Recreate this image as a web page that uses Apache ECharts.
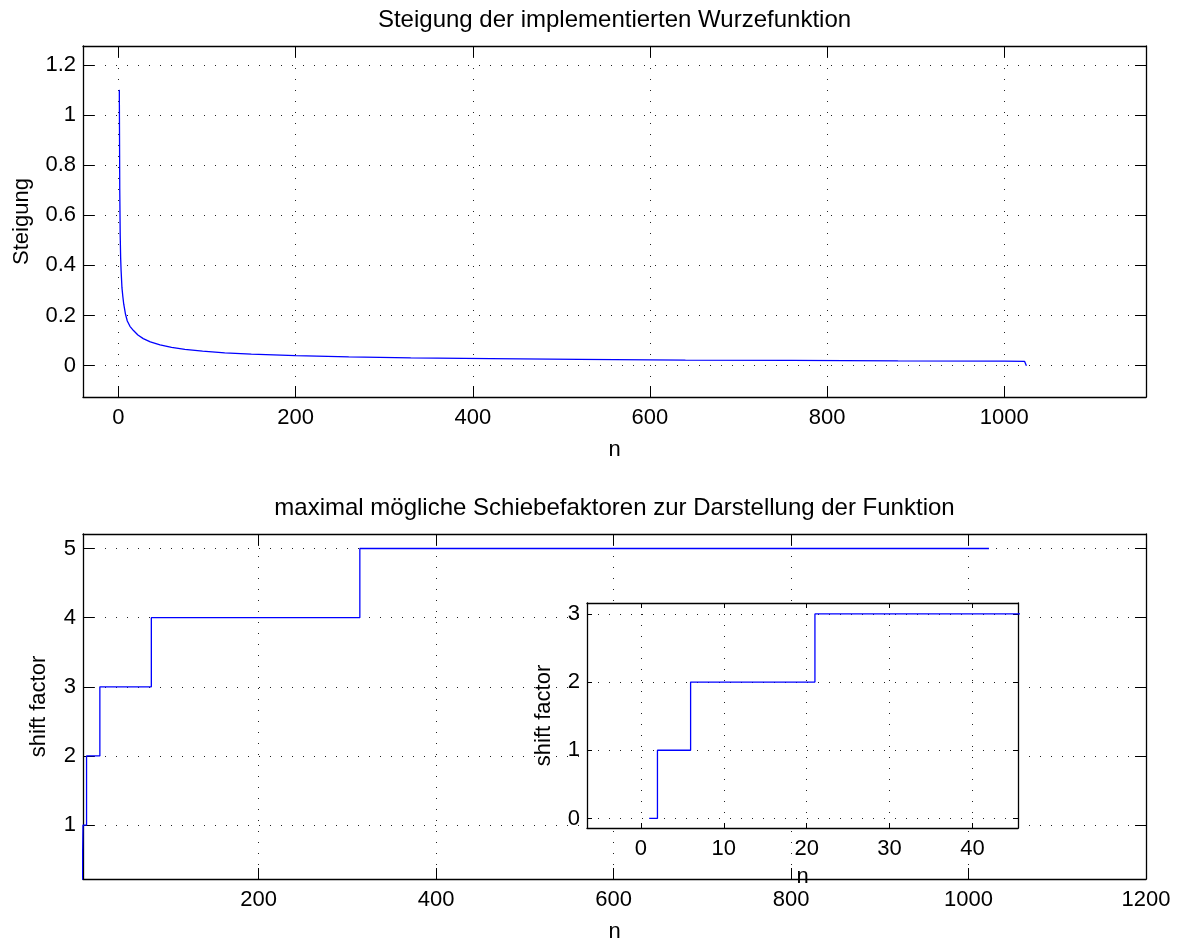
<!DOCTYPE html>
<html>
<head>
<meta charset="utf-8">
<script src="https://cdn.jsdelivr.net/npm/echarts@6/dist/echarts.min.js"></script>
<style>
  html, body { margin: 0; padding: 0; background: #fff; }
  #chart { width: 1181px; height: 944px; }
</style>
</head>
<body>
<div id="chart"></div>
<script>
// Slope of the implemented square-root function, sampled along n
const slopeN = [1, 1.5, 2, 2.5, 3, 4, 5, 6, 8, 10, 13, 17, 22, 28, 36, 47, 60, 75, 95, 120, 150, 200, 260, 330, 420, 520, 640, 760, 880, 1000, 1023, 1025];
const slopeV = [1.10, 0.70, 0.52, 0.43, 0.38, 0.31, 0.275, 0.245, 0.205, 0.178, 0.157, 0.140, 0.122, 0.108, 0.095, 0.083, 0.073, 0.065, 0.058, 0.051, 0.046, 0.040, 0.035, 0.031, 0.028, 0.025, 0.022, 0.021, 0.019, 0.018, 0.017, 0.0];

// Maximal shift factor (stairs: each value holds from n[i] up to n[i+1])
const shiftN = [1, 2, 6, 21, 79, 314, 1023];
const shiftV = [0, 1, 2, 3, 4, 5, 5];

// Tick positions
const topXTicks = [0, 200, 400, 600, 800, 1000];
const topYTicks = [0, 0.2, 0.4, 0.6, 0.8, 1, 1.2];
const botXTicks = [200, 400, 600, 800, 1000, 1200];
const botYTicks = [1, 2, 3, 4, 5];
const insetXTicks = [0, 10, 20, 30, 40];
const insetYTicks = [0, 1, 2, 3];

const titleTop = 'Steigung der implementierten Wurzefunktion';
const titleBottom = 'maximal mögliche Schiebefaktoren zur Darstellung der Funktion';

const FONT = '"Liberation Sans", Arial, Helvetica, sans-serif';
const FS = 22;
const gridDots = { color: '#222', width: 1, type: [1, 10] };
const boxLine = { color: '#000', width: 1.3 };
const plain = (v) => String(v);

function labelStyle(extra) {
  return Object.assign({ fontSize: FS, color: '#000', fontFamily: FONT }, extra || {});
}

// one labelled axis plus a mirrored unlabelled axis so the box carries ticks on all sides
function xPair(grid, min, max, ticks, tickLen, name, nameGap, z) {
  return [
    {
      type: 'value', gridIndex: grid, position: 'bottom', min: min, max: max, z: z,
      name: name, nameLocation: 'middle', nameGap: nameGap,
      nameTextStyle: labelStyle(),
      axisLine: { show: true, onZero: false, lineStyle: boxLine },
      axisTick: { show: true, inside: true, length: tickLen, customValues: ticks, lineStyle: { color: '#000', width: 1 } },
      axisLabel: labelStyle({ customValues: ticks, margin: 10, formatter: plain, showMinLabel: true, showMaxLabel: true }),
      splitLine: { show: true, lineStyle: gridDots }
    },
    {
      type: 'value', gridIndex: grid, position: 'top', min: min, max: max, z: z,
      axisLine: { show: true, onZero: false, lineStyle: boxLine },
      axisTick: { show: true, inside: true, length: tickLen, customValues: ticks, lineStyle: { color: '#000', width: 1 } },
      axisLabel: { show: false },
      splitLine: { show: false }
    }
  ];
}

function yPair(grid, min, max, ticks, tickLen, name, nameGap, z) {
  return [
    {
      type: 'value', gridIndex: grid, position: 'left', min: min, max: max, z: z,
      name: name, nameLocation: 'middle', nameGap: nameGap,
      nameTextStyle: labelStyle(),
      axisLine: { show: true, onZero: false, lineStyle: boxLine },
      axisTick: { show: true, inside: true, length: tickLen, customValues: ticks, lineStyle: { color: '#000', width: 1 } },
      axisLabel: labelStyle({ customValues: ticks, margin: 7, formatter: plain, showMinLabel: true, showMaxLabel: true }),
      splitLine: { show: true, lineStyle: gridDots }
    },
    {
      type: 'value', gridIndex: grid, position: 'right', min: min, max: max, z: z,
      axisLine: { show: true, onZero: false, lineStyle: boxLine },
      axisTick: { show: true, inside: true, length: tickLen, customValues: ticks, lineStyle: { color: '#000', width: 1 } },
      axisLabel: { show: false },
      splitLine: { show: false }
    }
  ];
}

const slopeData = slopeN.map((n, i) => [n, slopeV[i]]);
const shiftData = shiftN.map((n, i) => [n, shiftV[i]]);

const chart = echarts.init(document.getElementById('chart'), null, { renderer: 'canvas' });

chart.setOption({
  animation: false,
  backgroundColor: '#fff',
  grid: [
    { left: 83, top: 46, width: 1063, height: 351, show: false },
    { left: 83, top: 534, width: 1063, height: 349, show: false },
    { left: 587, top: 603, width: 431, height: 225, show: true, backgroundColor: '#fff', borderWidth: 0, z: 10 }
  ],
  xAxis: [].concat(
    xPair(0, -40, 1160, topXTicks, 11, 'n', 42, 0),
    xPair(1, 2, 1200, botXTicks, 11, 'n', 42, 0),
    xPair(2, -6.5, 45.5, insetXTicks, 5, 'n', 38, 11)
  ),
  yAxis: [].concat(
    yPair(0, -0.125, 1.275, topYTicks, 11, 'Steigung', 50, 0),
    yPair(1, 0.22, 5.21, botYTicks, 11, 'shift factor', 33, 0),
    yPair(2, -0.14, 3.16, insetYTicks, 5, 'shift factor', 32, 11)
  ),
  graphic: [
    { type: 'text', x: 614.5, y: 20, style: { text: titleTop, fill: '#000', font: '24px ' + FONT, textAlign: 'center', textVerticalAlign: 'middle' } },
    { type: 'text', x: 614.5, y: 508, style: { text: titleBottom, fill: '#000', font: '24px ' + FONT, textAlign: 'center', textVerticalAlign: 'middle' } }
  ],
  series: [
    {
      type: 'line', xAxisIndex: 0, yAxisIndex: 0, data: slopeData,
      symbol: 'none', smooth: false, lineStyle: { color: '#0000ff', width: 1.3 }, z: 3
    },
    {
      type: 'line', xAxisIndex: 2, yAxisIndex: 2, data: shiftData, step: 'end',
      symbol: 'none', lineStyle: { color: '#0000ff', width: 1.3 }, z: 3
    },
    {
      type: 'line', xAxisIndex: 4, yAxisIndex: 4, data: shiftData, step: 'end',
      symbol: 'none', lineStyle: { color: '#0000ff', width: 1.3 }, z: 12
    }
  ]
});
</script>
</body>
</html>
